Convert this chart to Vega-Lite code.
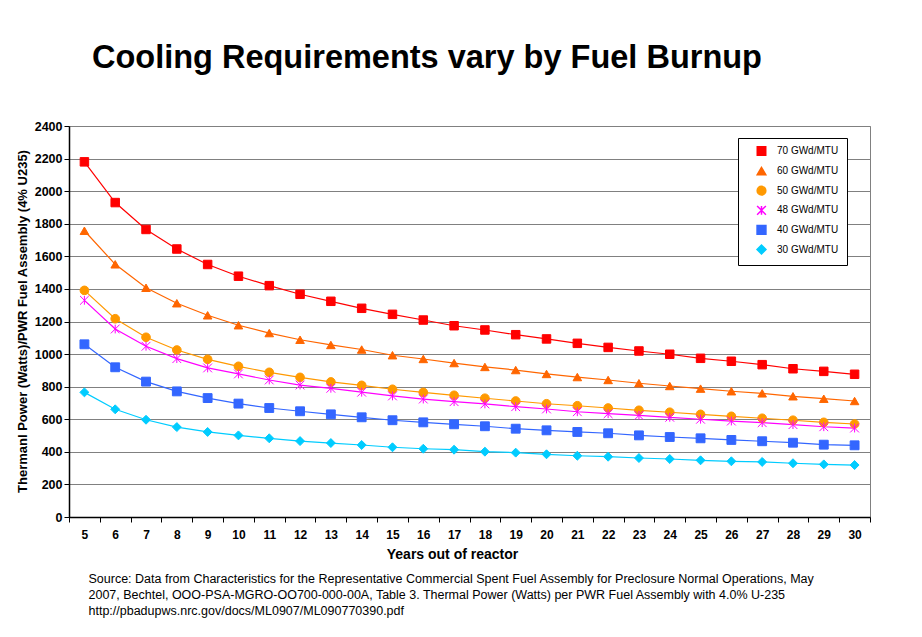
{
  "$schema": "https://vega.github.io/schema/vega-lite/v6.json",
  "autosize": {"type": "none"},
  "width": 801,
  "height": 391,
  "padding": {"left": 69, "top": 126, "right": 52, "bottom": 120},
  "background": "white",
  "config": {
    "font": "Liberation Sans",
    "view": {"stroke": "#808080", "strokeWidth": 1}
  },
  "title": {
    "text": "Cooling Requirements vary by Fuel Burnup",
    "anchor": "start",
    "frame": "group",
    "dx": 23,
    "offset": 20,
    "baseline": "alphabetic",
    "fontSize": 32.5,
    "fontWeight": "bold",
    "font": "Liberation Sans",
    "color": "black"
  },
  "datasets": {
    "burnup": [
      {"year": 5, "series": "70 GWd/MTU", "watts": 2180}, {"year": 6, "series": "70 GWd/MTU", "watts": 1930}, {"year": 7, "series": "70 GWd/MTU", "watts": 1765}, {"year": 8, "series": "70 GWd/MTU", "watts": 1645}, {"year": 9, "series": "70 GWd/MTU", "watts": 1550}, {"year": 10, "series": "70 GWd/MTU", "watts": 1478}, {"year": 11, "series": "70 GWd/MTU", "watts": 1420}, {"year": 12, "series": "70 GWd/MTU", "watts": 1367}, {"year": 13, "series": "70 GWd/MTU", "watts": 1324}, {"year": 14, "series": "70 GWd/MTU", "watts": 1281}, {"year": 15, "series": "70 GWd/MTU", "watts": 1244}, {"year": 16, "series": "70 GWd/MTU", "watts": 1209}, {"year": 17, "series": "70 GWd/MTU", "watts": 1174}, {"year": 18, "series": "70 GWd/MTU", "watts": 1148}, {"year": 19, "series": "70 GWd/MTU", "watts": 1119}, {"year": 20, "series": "70 GWd/MTU", "watts": 1093}, {"year": 21, "series": "70 GWd/MTU", "watts": 1066}, {"year": 22, "series": "70 GWd/MTU", "watts": 1041}, {"year": 23, "series": "70 GWd/MTU", "watts": 1019}, {"year": 24, "series": "70 GWd/MTU", "watts": 999}, {"year": 25, "series": "70 GWd/MTU", "watts": 974}, {"year": 26, "series": "70 GWd/MTU", "watts": 956}, {"year": 27, "series": "70 GWd/MTU", "watts": 935}, {"year": 28, "series": "70 GWd/MTU", "watts": 910}, {"year": 29, "series": "70 GWd/MTU", "watts": 894}, {"year": 30, "series": "70 GWd/MTU", "watts": 876},
      {"year": 5, "series": "60 GWd/MTU", "watts": 1757}, {"year": 6, "series": "60 GWd/MTU", "watts": 1551}, {"year": 7, "series": "60 GWd/MTU", "watts": 1407}, {"year": 8, "series": "60 GWd/MTU", "watts": 1312}, {"year": 9, "series": "60 GWd/MTU", "watts": 1238}, {"year": 10, "series": "60 GWd/MTU", "watts": 1177}, {"year": 11, "series": "60 GWd/MTU", "watts": 1129}, {"year": 12, "series": "60 GWd/MTU", "watts": 1088}, {"year": 13, "series": "60 GWd/MTU", "watts": 1056}, {"year": 14, "series": "60 GWd/MTU", "watts": 1028}, {"year": 15, "series": "60 GWd/MTU", "watts": 993}, {"year": 16, "series": "60 GWd/MTU", "watts": 970}, {"year": 17, "series": "60 GWd/MTU", "watts": 945}, {"year": 18, "series": "60 GWd/MTU", "watts": 921}, {"year": 19, "series": "60 GWd/MTU", "watts": 902}, {"year": 20, "series": "60 GWd/MTU", "watts": 878}, {"year": 21, "series": "60 GWd/MTU", "watts": 859}, {"year": 22, "series": "60 GWd/MTU", "watts": 841}, {"year": 23, "series": "60 GWd/MTU", "watts": 821}, {"year": 24, "series": "60 GWd/MTU", "watts": 804}, {"year": 25, "series": "60 GWd/MTU", "watts": 788}, {"year": 26, "series": "60 GWd/MTU", "watts": 772}, {"year": 27, "series": "60 GWd/MTU", "watts": 759}, {"year": 28, "series": "60 GWd/MTU", "watts": 741}, {"year": 29, "series": "60 GWd/MTU", "watts": 726}, {"year": 30, "series": "60 GWd/MTU", "watts": 712},
      {"year": 5, "series": "50 GWd/MTU", "watts": 1391}, {"year": 6, "series": "50 GWd/MTU", "watts": 1217}, {"year": 7, "series": "50 GWd/MTU", "watts": 1103}, {"year": 8, "series": "50 GWd/MTU", "watts": 1025}, {"year": 9, "series": "50 GWd/MTU", "watts": 968}, {"year": 10, "series": "50 GWd/MTU", "watts": 925}, {"year": 11, "series": "50 GWd/MTU", "watts": 888}, {"year": 12, "series": "50 GWd/MTU", "watts": 857}, {"year": 13, "series": "50 GWd/MTU", "watts": 829}, {"year": 14, "series": "50 GWd/MTU", "watts": 808}, {"year": 15, "series": "50 GWd/MTU", "watts": 784}, {"year": 16, "series": "50 GWd/MTU", "watts": 765}, {"year": 17, "series": "50 GWd/MTU", "watts": 747}, {"year": 18, "series": "50 GWd/MTU", "watts": 729}, {"year": 19, "series": "50 GWd/MTU", "watts": 712}, {"year": 20, "series": "50 GWd/MTU", "watts": 695}, {"year": 21, "series": "50 GWd/MTU", "watts": 683}, {"year": 22, "series": "50 GWd/MTU", "watts": 669}, {"year": 23, "series": "50 GWd/MTU", "watts": 655}, {"year": 24, "series": "50 GWd/MTU", "watts": 643}, {"year": 25, "series": "50 GWd/MTU", "watts": 630}, {"year": 26, "series": "50 GWd/MTU", "watts": 618}, {"year": 27, "series": "50 GWd/MTU", "watts": 606}, {"year": 28, "series": "50 GWd/MTU", "watts": 594}, {"year": 29, "series": "50 GWd/MTU", "watts": 581}, {"year": 30, "series": "50 GWd/MTU", "watts": 571},
      {"year": 5, "series": "48 GWd/MTU", "watts": 1330}, {"year": 6, "series": "48 GWd/MTU", "watts": 1154}, {"year": 7, "series": "48 GWd/MTU", "watts": 1048}, {"year": 8, "series": "48 GWd/MTU", "watts": 972}, {"year": 9, "series": "48 GWd/MTU", "watts": 915}, {"year": 10, "series": "48 GWd/MTU", "watts": 878}, {"year": 11, "series": "48 GWd/MTU", "watts": 841}, {"year": 12, "series": "48 GWd/MTU", "watts": 810}, {"year": 13, "series": "48 GWd/MTU", "watts": 790}, {"year": 14, "series": "48 GWd/MTU", "watts": 766}, {"year": 15, "series": "48 GWd/MTU", "watts": 743}, {"year": 16, "series": "48 GWd/MTU", "watts": 724}, {"year": 17, "series": "48 GWd/MTU", "watts": 708}, {"year": 18, "series": "48 GWd/MTU", "watts": 694}, {"year": 19, "series": "48 GWd/MTU", "watts": 677}, {"year": 20, "series": "48 GWd/MTU", "watts": 663}, {"year": 21, "series": "48 GWd/MTU", "watts": 646}, {"year": 22, "series": "48 GWd/MTU", "watts": 634}, {"year": 23, "series": "48 GWd/MTU", "watts": 624}, {"year": 24, "series": "48 GWd/MTU", "watts": 612}, {"year": 25, "series": "48 GWd/MTU", "watts": 600}, {"year": 26, "series": "48 GWd/MTU", "watts": 589}, {"year": 27, "series": "48 GWd/MTU", "watts": 579}, {"year": 28, "series": "48 GWd/MTU", "watts": 567}, {"year": 29, "series": "48 GWd/MTU", "watts": 554}, {"year": 30, "series": "48 GWd/MTU", "watts": 546},
      {"year": 5, "series": "40 GWd/MTU", "watts": 1060}, {"year": 6, "series": "40 GWd/MTU", "watts": 919}, {"year": 7, "series": "40 GWd/MTU", "watts": 831}, {"year": 8, "series": "40 GWd/MTU", "watts": 771}, {"year": 9, "series": "40 GWd/MTU", "watts": 730}, {"year": 10, "series": "40 GWd/MTU", "watts": 696}, {"year": 11, "series": "40 GWd/MTU", "watts": 669}, {"year": 12, "series": "40 GWd/MTU", "watts": 649}, {"year": 13, "series": "40 GWd/MTU", "watts": 630}, {"year": 14, "series": "40 GWd/MTU", "watts": 612}, {"year": 15, "series": "40 GWd/MTU", "watts": 594}, {"year": 16, "series": "40 GWd/MTU", "watts": 581}, {"year": 17, "series": "40 GWd/MTU", "watts": 569}, {"year": 18, "series": "40 GWd/MTU", "watts": 557}, {"year": 19, "series": "40 GWd/MTU", "watts": 542}, {"year": 20, "series": "40 GWd/MTU", "watts": 532}, {"year": 21, "series": "40 GWd/MTU", "watts": 522}, {"year": 22, "series": "40 GWd/MTU", "watts": 514}, {"year": 23, "series": "40 GWd/MTU", "watts": 501}, {"year": 24, "series": "40 GWd/MTU", "watts": 491}, {"year": 25, "series": "40 GWd/MTU", "watts": 483}, {"year": 26, "series": "40 GWd/MTU", "watts": 473}, {"year": 27, "series": "40 GWd/MTU", "watts": 465}, {"year": 28, "series": "40 GWd/MTU", "watts": 456}, {"year": 29, "series": "40 GWd/MTU", "watts": 444}, {"year": 30, "series": "40 GWd/MTU", "watts": 440},
      {"year": 5, "series": "30 GWd/MTU", "watts": 765}, {"year": 6, "series": "30 GWd/MTU", "watts": 661}, {"year": 7, "series": "30 GWd/MTU", "watts": 597}, {"year": 8, "series": "30 GWd/MTU", "watts": 552}, {"year": 9, "series": "30 GWd/MTU", "watts": 522}, {"year": 10, "series": "30 GWd/MTU", "watts": 501}, {"year": 11, "series": "30 GWd/MTU", "watts": 483}, {"year": 12, "series": "30 GWd/MTU", "watts": 466}, {"year": 13, "series": "30 GWd/MTU", "watts": 454}, {"year": 14, "series": "30 GWd/MTU", "watts": 442}, {"year": 15, "series": "30 GWd/MTU", "watts": 428}, {"year": 16, "series": "30 GWd/MTU", "watts": 419}, {"year": 17, "series": "30 GWd/MTU", "watts": 413}, {"year": 18, "series": "30 GWd/MTU", "watts": 401}, {"year": 19, "series": "30 GWd/MTU", "watts": 395}, {"year": 20, "series": "30 GWd/MTU", "watts": 385}, {"year": 21, "series": "30 GWd/MTU", "watts": 376}, {"year": 22, "series": "30 GWd/MTU", "watts": 370}, {"year": 23, "series": "30 GWd/MTU", "watts": 362}, {"year": 24, "series": "30 GWd/MTU", "watts": 356}, {"year": 25, "series": "30 GWd/MTU", "watts": 348}, {"year": 26, "series": "30 GWd/MTU", "watts": 342}, {"year": 27, "series": "30 GWd/MTU", "watts": 338}, {"year": 28, "series": "30 GWd/MTU", "watts": 330}, {"year": 29, "series": "30 GWd/MTU", "watts": 323}, {"year": 30, "series": "30 GWd/MTU", "watts": 319}
    ]
  },
  "data": {"name": "burnup"},
  "resolve": {"axis": {"x": "independent"}},
  "layer": [
    {
      "mark": {"type": "line", "strokeWidth": 1.2},
      "encoding": {
        "x": {
          "field": "year", "type": "ordinal", "bandPosition": 0.5,
          "scale": {"type": "band", "paddingInner": 0, "paddingOuter": 0},
          "axis": {
            "orient": "bottom",
            "title": "Years out of reactor",
            "titleFontSize": 14, "titleFontWeight": "bold", "titleColor": "black",
            "titleX": 383, "titleY": 41, "titleBaseline": "alphabetic", "titleAlign": "center",
            "labelAngle": 0, "labelFontSize": 12, "labelFontWeight": "bold", "labelColor": "black",
            "labelPadding": 7, "tickBand": "extent", "tickSize": 5, "tickColor": "black",
            "domainColor": "black", "domainWidth": 1.5, "grid": false
          }
        },
        "y": {
          "field": "watts", "type": "quantitative",
          "scale": {"domain": [0, 2400], "nice": false, "zero": true},
          "axis": {
            "title": "Thermanl Power (Watts)/PWR Fuel Assembly (4% U235)",
            "titleFontSize": 13, "titleFontWeight": "bold", "titleColor": "black",
            "titleX": -47, "titleY": 195, "titleBaseline": "middle", "titleAlign": "center", "titleAngle": 270,
            "values": [0, 200, 400, 600, 800, 1000, 1200, 1400, 1600, 1800, 2000, 2200, 2400],
            "format": "d", "labelOverlap": false,
            "labelFontSize": 12.5, "labelFontWeight": "bold", "labelColor": "black", "labelPadding": 2,
            "tickSize": 5, "tickColor": "black", "domainColor": "black", "domainWidth": 1.5,
            "grid": true, "gridColor": "#808080", "gridWidth": 1
          }
        },
        "color": {
          "field": "series", "type": "nominal",
          "scale": {
            "domain": ["70 GWd/MTU", "60 GWd/MTU", "50 GWd/MTU", "48 GWd/MTU", "40 GWd/MTU", "30 GWd/MTU"],
            "range": ["#FF0000", "#FF6600", "#FF9900", "#FF00FF", "#3366FF", "#00CCFF"]
          },
          "legend": {
            "title": null,
            "orient": "none", "legendX": 669, "legendY": 12,
            "padding": 8, "strokeColor": "black", "fillColor": "white",
            "labelFontSize": 10, "labelFont": "Liberation Sans", "labelColor": "black",
            "symbolSize": 16, "symbolOffset": 10, "labelOffset": 10, "rowPadding": 4.6
          }
        }
      }
    },
    {
      "mark": {"type": "point", "filled": true, "opacity": 1, "strokeWidth": 1},
      "encoding": {
        "x": {
          "field": "year", "type": "ordinal", "bandPosition": 0.5,
          "scale": {"type": "band", "paddingInner": 0, "paddingOuter": 0},
          "axis": {
            "orient": "bottom",
            "title": [
              "Source: Data from Characteristics for the Representative Commercial Spent Fuel Assembly for Preclosure Normal Operations, May",
              "2007, Bechtel, OOO-PSA-MGRO-OO700-000-00A, Table 3. Thermal Power (Watts) per PWR Fuel Assembly with 4.0% U-235",
              "http://pbadupws.nrc.gov/docs/ML0907/ML090770390.pdf"
            ],
            "titleFontSize": 12.5, "titleFontWeight": "normal", "titleColor": "black",
            "titleAlign": "left", "titleAnchor": "start", "titleX": 19, "titleY": 65,
            "titleBaseline": "alphabetic", "titleLineHeight": 16, "titleLimit": 1000,
            "labels": false, "ticks": false, "domain": false, "grid": false
          }
        },
        "y": {
          "field": "watts", "type": "quantitative",
          "scale": {"domain": [0, 2400], "nice": false, "zero": true},
          "axis": {
            "title": "Thermanl Power (Watts)/PWR Fuel Assembly (4% U235)",
            "titleFontSize": 13, "titleFontWeight": "bold", "titleColor": "black",
            "titleX": -47, "titleY": 195, "titleBaseline": "middle", "titleAlign": "center", "titleAngle": 270,
            "values": [0, 200, 400, 600, 800, 1000, 1200, 1400, 1600, 1800, 2000, 2200, 2400],
            "format": "d", "labelOverlap": false,
            "labelFontSize": 12.5, "labelFontWeight": "bold", "labelColor": "black", "labelPadding": 2,
            "tickSize": 5, "tickColor": "black", "domainColor": "black", "domainWidth": 1.5,
            "grid": true, "gridColor": "#808080", "gridWidth": 1
          }
        },
        "color": {
          "field": "series", "type": "nominal",
          "legend": {
            "title": null,
            "orient": "none", "legendX": 669, "legendY": 12,
            "padding": 8, "strokeColor": "black", "fillColor": "white",
            "labelFontSize": 10, "labelFont": "Liberation Sans", "labelColor": "black",
            "symbolSize": 16, "symbolOffset": 10, "labelOffset": 10, "rowPadding": 4.6
          }
        },
        "stroke": {
          "field": "series", "type": "nominal",
          "scale": {
            "domain": ["70 GWd/MTU", "60 GWd/MTU", "50 GWd/MTU", "48 GWd/MTU", "40 GWd/MTU", "30 GWd/MTU"],
            "range": ["#FF0000", "#FF6600", "#FF9900", "#FF00FF", "#3366FF", "#00CCFF"]
          },
          "legend": null
        },
        "shape": {
          "field": "series", "type": "nominal",
          "scale": {
            "domain": ["70 GWd/MTU", "60 GWd/MTU", "50 GWd/MTU", "48 GWd/MTU", "40 GWd/MTU", "30 GWd/MTU"],
            "range": ["square", "triangle-up", "circle", "M-1,-1L1,1M-1,1L1,-1M0,-1L0,1", "square", "diamond"]
          },
          "legend": null
        },
        "size": {
          "field": "series", "type": "ordinal",
          "scale": {
            "domain": ["70 GWd/MTU", "60 GWd/MTU", "50 GWd/MTU", "48 GWd/MTU", "40 GWd/MTU", "30 GWd/MTU"],
            "range": [72, 80, 56, 42, 72, 60]
          },
          "legend": null
        }
      }
    }
  ]
}
